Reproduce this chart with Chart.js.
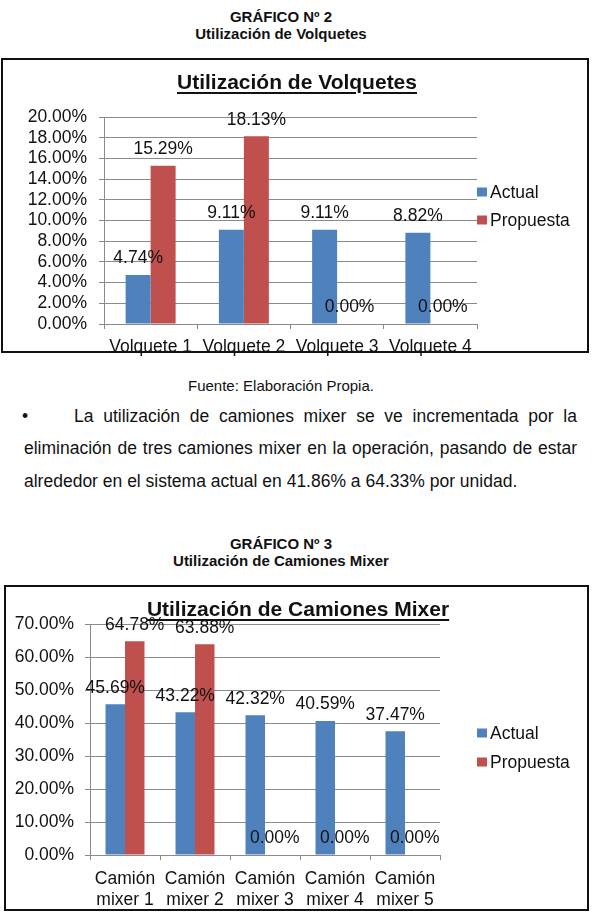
<!DOCTYPE html>
<html>
<head>
<meta charset="utf-8">
<script src="https://cdn.jsdelivr.net/npm/chart.js@4.4.1/dist/chart.umd.min.js"></script>
<style>
  body {
    margin: 0;
    width: 594px;
    height: 921px;
    position: relative;
    overflow: hidden;
    background: #fff;
    font-family: "Liberation Sans", Arial, sans-serif;
    color: #111;
  }
  .abs { position: absolute; }
  .head {
    left: 131px;
    width: 300px;
    text-align: center;
    font-weight: bold;
    font-size: 15px;
    line-height: 18px;
  }
  .box {
    border: 2px solid #111;
    box-sizing: border-box;
    pointer-events: none;
  }
  .ctitle {
    width: 594px;
    left: 0;
    text-align: center;
    font-weight: bold;
    font-size: 21px;
    line-height: 24px;
    text-decoration: underline;
    text-underline-offset: 3px;
  }
  .line {
    font-size: 17.5px;
    line-height: 22px;
    white-space: nowrap;
  }
  .just {
    text-align: justify;
    text-align-last: justify;
    white-space: normal;
  }
</style>
</head>
<body>

<div class="abs head" style="top:8px;">GRÁFICO Nº 2</div>
<div class="abs head" style="top:25px;">Utilización de Volquetes</div>

<canvas id="volquetes" class="abs" width="594" height="310" style="left:0;top:50px;"></canvas>
<div class="abs box" style="left:1px;top:58px;width:588px;height:295px;"></div>
<div class="abs ctitle" style="top:70px;">Utilización de Volquetes</div>

<div class="abs head" style="top:377px;font-weight:normal;">Fuente: Elaboración Propia.</div>

<div class="abs line" style="left:22px;top:405px;">&#8226;</div>
<div class="abs line just" style="left:74px;width:503px;top:405px;">La utilización de camiones mixer se ve incrementada por la</div>
<div class="abs line just" style="left:24px;width:553px;top:437px;">eliminación de tres camiones mixer en la operación, pasando de estar</div>
<div class="abs line" style="left:24px;top:470px;">alrededor en el sistema actual en 41.86% a 64.33% por unidad.</div>

<div class="abs head" style="top:535px;">GRÁFICO Nº 3</div>
<div class="abs head" style="top:552px;">Utilización de Camiones Mixer</div>

<canvas id="mixer" class="abs" width="594" height="341" style="left:0;top:580px;"></canvas>
<div class="abs box" style="left:4px;top:585px;width:585px;height:326px;"></div>
<div class="abs ctitle" style="top:597px;left:1px;">Utilización de Camiones Mixer</div>

<script>
const seriesNames = ["Actual", "Propuesta"];
const seriesColors = ["#4F81BD", "#C0504D"];

const volqueteLabels = ["Volquete 1", "Volquete 2", "Volquete 3", "Volquete 4"];
const volqueteActual = [4.74, 9.11, 9.11, 8.82];
const volquetePropuesta = [15.29, 18.13, 0, 0];

const mixerLabels = [
  ["Camión", "mixer 1"],
  ["Camión", "mixer 2"],
  ["Camión", "mixer 3"],
  ["Camión", "mixer 4"],
  ["Camión", "mixer 5"],
];
const mixerActual = [45.69, 43.22, 42.32, 40.59, 37.47];
const mixerPropuesta = [64.78, 63.88, 0, 0, 0];

const FONT = '"Liberation Sans", Arial, sans-serif';
const GRID = "#8a8a8a";
const INK = "#111";

// value above every bar, like the Excel data labels
const valueLabels = {
  id: "valueLabels",
  afterDatasetsDraw(chart, args, opts) {
    const ctx = chart.ctx;
    ctx.save();
    ctx.font = opts.size + "px " + FONT;
    ctx.fillStyle = INK;
    ctx.textAlign = "center";
    ctx.textBaseline = "middle";
    chart.data.datasets.forEach((ds, i) => {
      chart.getDatasetMeta(i).data.forEach((bar, j) => {
        ctx.fillText(ds.data[j].toFixed(2) + "%", bar.x, bar.y - opts.offset);
      });
    });
    ctx.restore();
  },
};

// legend on the right side, not centred
const sideLegend = {
  id: "sideLegend",
  afterDraw(chart, args, opts) {
    const ctx = chart.ctx;
    ctx.save();
    ctx.font = opts.size + "px " + FONT;
    ctx.textBaseline = "middle";
    chart.data.datasets.forEach((ds, i) => {
      const y = opts.top + i * opts.gap;
      ctx.fillStyle = ds.backgroundColor;
      ctx.fillRect(opts.left, y - 4.5, 10, 9);
      ctx.fillStyle = INK;
      ctx.fillText(ds.label, opts.left + 13, y + 1);
    });
    ctx.restore();
  },
};

const drawBarChart = (canvas, labels, actual, propuesta, yMax, yStep, lay) => {
  return new Chart(canvas, {
    type: "bar",
    data: {
      labels: labels,
      datasets: [
        {
          label: seriesNames[0],
          data: actual,
          backgroundColor: seriesColors[0],
          categoryPercentage: lay.groupPct,
          barPercentage: 1,
        },
        {
          label: seriesNames[1],
          data: propuesta,
          backgroundColor: seriesColors[1],
          categoryPercentage: lay.groupPct,
          barPercentage: 1,
        },
      ],
    },
    options: {
      responsive: false,
      animation: false,
      devicePixelRatio: 1,
      layout: { padding: { left: 0, right: lay.right, top: lay.top, bottom: 0 } },
      plugins: {
        legend: { display: false },
        tooltip: { enabled: false },
        valueLabels: { size: 17.5, offset: 16.5 },
        sideLegend: { size: 17.5, left: 477, top: lay.legendTop, gap: lay.legendGap },
      },
      scales: {
        x: {
          grid: { drawOnChartArea: false, tickLength: 5, color: GRID },
          border: { color: GRID },
          ticks: {
            color: INK,
            font: { family: FONT, size: 17.5, lineHeight: lay.lineHeight },
            padding: lay.xPad,
            maxRotation: 0,
            autoSkip: false,
          },
          afterFit(scale) {
            scale.height = lay.xHeight;
          },
        },
        y: {
          min: 0,
          max: yMax,
          grid: { color: GRID, tickLength: 5 },
          border: { color: GRID },
          ticks: {
            stepSize: yStep,
            autoSkip: false,
            color: INK,
            font: { family: FONT, size: 17.5, lineHeight: 1 },
            padding: lay.yPad,
            callback: (v) => v.toFixed(2) + "%",
          },
          afterFit(scale) {
            scale.width = lay.left;
          },
        },
      },
    },
    plugins: [valueLabels, sideLegend],
  });
};

drawBarChart(document.getElementById("volquetes"), volqueteLabels, volqueteActual, volquetePropuesta, 20, 2, {
  left: 104,
  right: 117,
  top: 67,
  xHeight: 36,
  xPad: 7.5,
  yPad: 12,
  lineHeight: 1.2,
  groupPct: 0.536,
  legendTop: 142,
  legendGap: 28,
});

drawBarChart(document.getElementById("mixer"), mixerLabels, mixerActual, mixerPropuesta, 70, 10, {
  left: 90,
  right: 154,
  top: 44,
  xHeight: 66,
  xPad: 9,
  yPad: 11,
  lineHeight: 1.18,
  groupPct: 0.557,
  legendTop: 153,
  legendGap: 29,
});
</script>
</body>
</html>
